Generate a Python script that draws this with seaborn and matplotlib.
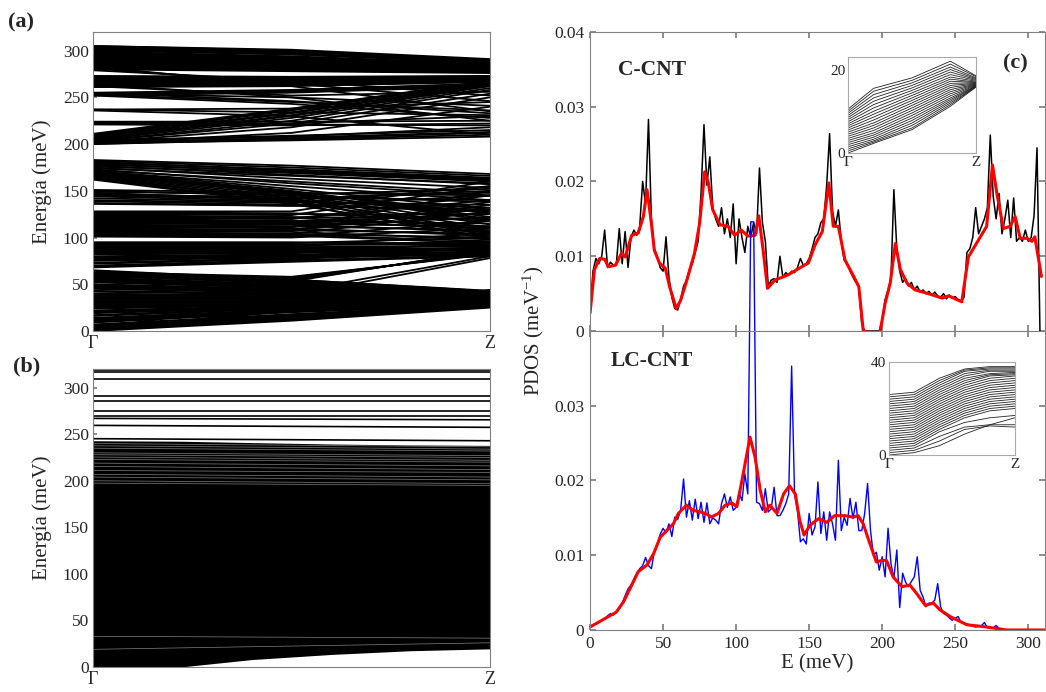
import numpy as np
import pandas as pd
import matplotlib
matplotlib.use('Agg')
import matplotlib.pyplot as plt
import seaborn as sns

# ---------------- (a) C-CNT dispersion: E (meV) at Gamma, mid-zone, Z
a_k = [0.0, 0.5, 1.0]
a_bands = [
    # top group
    (305, 300, 290), (304, 299, 289), (302, 297, 288), (300, 296, 287), (299, 294, 286),
    (297, 292, 285), (295, 290, 284), (293, 289, 283), (291, 287, 282), (289, 285, 281),
    (287, 284, 280), (285, 282, 279), (283, 280, 278), (281, 279, 277), (273, 272, 273),
    (271, 270, 272), (270, 269, 271), (268, 268, 270), (266, 266, 269), (264, 265, 268),
    (262, 263, 267), (255, 258, 265), (253, 256, 263), (252, 255, 262),
    (305, 301, 291), (303, 298, 288.5), (301, 296, 287.5), (298, 293, 285.5), (296, 291, 284.5),
    (294, 290, 283.5), (292, 288, 282.5), (290, 286, 281.5), (288, 284, 280.5), (286, 283, 279.5),
    (284, 281, 278.5), (282, 279, 277.5), (280, 278, 276), (272, 271, 272.5), (269, 268.5, 270.5),
    (267, 267, 269.5), (265, 265.5, 268.5), (263, 264, 267.5), (261, 262, 266.5), (254, 257, 263.5),
    # 200-250 group
    (211, 238, 268), (209, 236, 266), (207, 233, 264), (205, 230, 262), (204, 228, 260),
    (203, 225, 258), (202, 218, 250), (201, 212, 240), (200, 205, 210), (201, 204, 208),
    (202, 206, 212), (204, 209, 215), (222, 221, 220), (224, 224, 225), (237, 234, 231),
    (237, 238, 245), (253, 245, 236), (254, 250, 241), (252, 243, 228), (262, 252, 256),
    (264, 250, 225), (281, 265, 246), (283, 262, 235), (279, 268, 252),
    (210, 237, 267), (208, 234, 265), (206, 231, 263), (203, 222, 254), (200, 207, 213),
    (203, 208, 218), (221, 220, 222), (223, 222, 230), (236, 230, 210), (255, 246, 233),
    # middle group
    (183, 177, 168), (182, 175, 166), (180, 173, 164), (178, 171, 162), (176, 169, 160),
    (174, 166, 158), (172, 160, 148), (170, 150, 122), (169, 148, 118), (168, 146, 114),
    (167, 144, 110), (166, 142, 106), (165, 140, 102), (163, 137, 98), (151, 148, 145),
    (149, 146, 152), (146, 143, 140), (142, 138, 135), (140, 137, 155), (137, 134, 130),
    (128, 128, 160), (126, 125, 125), (124, 122, 120), (122, 120, 140), (120, 118, 115),
    (118, 117, 130), (116, 115, 112), (114, 112, 108), (112, 111, 150), (110, 108, 104),
    (108, 107, 135), (106, 104, 100), (104, 103, 96), (102, 101, 118), (95, 95, 93),
    (93, 93, 92), (91, 91, 90), (89, 89, 88), (87, 87, 86), (85, 85, 84), (83, 84, 82),
    (80, 82, 80), (78, 81, 90), (76, 80, 85), (73, 78, 82), (70, 76, 80), (68, 74, 80),
    (181, 172, 163), (179, 170, 161), (177, 167, 157), (175, 163, 153), (173, 158, 145),
    (171, 155, 140), (171, 152, 130), (170, 149, 126), (168, 147, 120), (164, 139, 104),
    (162, 136, 100), (150, 145, 138), (148, 140, 128), (147, 142, 148), (145, 141, 150),
    (144, 139, 132), (139, 135, 128), (136, 134, 145), (127, 126, 118), (125, 124, 155),
    (123, 121, 112), (121, 120, 145), (119, 117, 110), (117, 116, 126), (115, 114, 106),
    (113, 112, 122), (111, 110, 102), (109, 108, 138), (107, 106, 98), (105, 104, 128),
    (103, 102, 94), (101, 100, 110), (94, 94, 100), (92, 92, 96), (90, 90, 105), (88, 88, 92),
    (86, 86, 89), (84, 85, 87), (82, 83, 95), (79, 81, 84), (77, 80, 88), (75, 79, 83),
    (72, 77, 86), (69, 75, 81),
    # bundle crossing to ~80 meV
    (63, 58, 82), (62, 57, 83), (61, 56, 84), (60, 55, 85), (59, 54, 86), (58, 53, 87),
    (0, 42, 80), (0, 38, 78),
    # low group
    (65, 55, 43), (63, 54, 42), (60, 52, 41), (57, 50, 40), (55, 48, 40), (53, 46, 39),
    (50, 45, 38), (48, 43, 38), (46, 42, 37), (43, 40, 36), (40, 38, 35), (38, 37, 35),
    (35, 35, 34), (33, 33, 33), (30, 31, 33), (28, 30, 32), (25, 28, 32), (22, 27, 31),
    (20, 26, 31), (17, 25, 30), (14, 23, 30), (12, 22, 29), (10, 21, 29), (7, 18, 28),
    (5, 16, 28), (3, 14, 27), (1, 12, 26), (0, 11, 25), (0, 22, 41), (0, 24, 44),
    (64, 55, 42.5), (62, 53, 41.5), (61, 52, 41), (59, 51, 40.5), (56, 49, 40), (54, 47, 39.5),
    (52, 46, 39), (49, 44, 38.5), (47, 43, 38), (45, 41, 37.5), (42, 39, 36), (39, 38, 35.5),
    (37, 36, 35), (36, 35.5, 34.5), (34, 34, 34), (32, 32, 33.5), (31, 31.5, 33), (29, 30.5, 32.5),
    (27, 29, 32), (26, 28.5, 31.5), (24, 27.5, 31), (21, 26, 30.5), (19, 25, 30), (16, 24, 29.5),
    (13, 22.5, 29), (11, 21, 28.5), (9, 20, 28), (6, 17, 27.5), (4, 15, 27), (2, 13, 26.5),
]

# ---------------- (b) LC-CNT dispersion
b_k = [0.0, 0.22, 0.4, 0.6, 0.8, 1.0]
b_bottom = [0, 0, 8, 13.5, 17.5, 19.5]
b_top = [243, 242.5, 241, 239.5, 238.5, 238]
b_flat_gamma = [318.6, 316.5, 309.7, 291.4, 285.3, 274.6, 269.2, 267.0, 259.5, 245.2]
b_flat_z = [318.6, 316.5, 309.7, 291.4, 285.3, 274.6, 269.2, 265.5, 257.4, 243.0]
b_gap_gamma = [240.0, 237.6, 235.0, 230.0, 228.0, 225.5, 223.0, 219.0, 215.4, 211.0,
               207.0, 204.0, 200.0, 197.5, 33.0, 19.0]
b_gap_z = [236.5, 234.0, 232.0, 227.0, 225.0, 222.0, 220.0, 216.0, 212.0, 209.0,
           204.0, 201.0, 197.0, 195.0, 31.0, 26.0]

# ---------------- (c) PDOS
c_step = 2
cnt_black = [
    0.0025, 0.0080, 0.0097, 0.0090, 0.0100, 0.0135, 0.0085, 0.0092, 0.0088, 0.0090,
    0.0137, 0.0090, 0.0133, 0.0085, 0.0125, 0.0135, 0.0128, 0.0140, 0.0200, 0.0170,
    0.0283, 0.0150, 0.0110, 0.0100, 0.0085, 0.0080, 0.0126, 0.0072, 0.0045, 0.0030,
    0.0028, 0.0042, 0.0060, 0.0068, 0.0082, 0.0090, 0.0105, 0.0120, 0.0185, 0.0276,
    0.0195, 0.0233, 0.0165, 0.0150, 0.0140, 0.0165, 0.0130, 0.0150, 0.0125, 0.0170,
    0.0090, 0.0150, 0.0125, 0.0105, 0.0140, 0.0125, 0.0145, 0.0130, 0.0218, 0.0145,
    0.0120, 0.0060, 0.0068, 0.0070, 0.0065, 0.0100, 0.0072, 0.0078, 0.0075, 0.0080,
    0.0078, 0.0085, 0.0097, 0.0088, 0.0090, 0.0097, 0.0110, 0.0125, 0.0130, 0.0145,
    0.0150, 0.0195, 0.0264, 0.0160, 0.0140, 0.0162, 0.0120, 0.0095, 0.0090, 0.0080,
    0.0072, 0.0065, 0.0060, 0.0010, 0.0000, 0.0000, 0.0000, 0.0000, 0.0000, 0.0000,
    0.0015, 0.0042, 0.0055, 0.0070, 0.0189, 0.0110, 0.0080, 0.0065, 0.0070, 0.0060,
    0.0065, 0.0055, 0.0060, 0.0052, 0.0055, 0.0050, 0.0053, 0.0048, 0.0052, 0.0047,
    0.0045, 0.0050, 0.0043, 0.0048, 0.0044, 0.0046, 0.0042, 0.0040, 0.0045, 0.0105,
    0.0110, 0.0125, 0.0165, 0.0130, 0.0140, 0.0150, 0.0165, 0.0262, 0.0180, 0.0150,
    0.0184, 0.0130, 0.0150, 0.0175, 0.0125, 0.0178, 0.0120, 0.0125, 0.0120, 0.0135,
    0.0120, 0.0125, 0.0155, 0.0245, 0.0000,
]
cnt_red_e = [0, 3, 6.5, 10, 12.5, 17.5, 21.5, 24, 28.5, 33, 36.5, 39, 42, 44, 47.5, 51.5,
             54.5, 59, 62, 66, 71.5, 75, 78.5, 81, 84, 89, 94.5, 99, 103.5, 108, 113, 115.5,
             118.5, 121.5, 126.5, 135.5, 145, 149.5, 154, 159, 163.5, 166.5, 170, 174.5,
             180.5, 184, 187, 190, 198.5, 202, 205.5, 209, 212.5, 217, 222.5, 231.5, 241,
             245.5, 254.5, 259, 266, 271.5, 275.5, 278.5, 283, 287.5, 291, 294.5, 299,
             302.5, 304.5, 309]
cnt_red = [0.0024, 0.0082, 0.0097, 0.0096, 0.0086, 0.0088, 0.0104, 0.0099, 0.0128, 0.0131,
           0.0153, 0.0189, 0.0144, 0.0108, 0.0091, 0.0084, 0.0059, 0.0030, 0.0041, 0.0066,
           0.0104, 0.0144, 0.0213, 0.0198, 0.0162, 0.0142, 0.0140, 0.0128, 0.0135, 0.0127,
           0.0128, 0.0154, 0.0108, 0.0057, 0.0068, 0.0075, 0.0086, 0.0091, 0.0115, 0.0133,
           0.0198, 0.0140, 0.0140, 0.0095, 0.0073, 0.0059, 0.0001, -0.0002, -0.0002, 0.0037,
           0.0064, 0.0117, 0.0082, 0.0064, 0.0055, 0.0050, 0.0044, 0.0047, 0.0039, 0.0099,
           0.0122, 0.0140, 0.0222, 0.0184, 0.0137, 0.0140, 0.0153, 0.0124, 0.0124, 0.0120,
           0.0126, 0.0073]
lc_blue = [
    0.0005, 0.0007, 0.0009, 0.0011, 0.0013, 0.0015, 0.0019, 0.0022, 0.0020, 0.0024,
    0.0028, 0.0036, 0.0046, 0.0055, 0.0060, 0.0068, 0.0076, 0.0082, 0.0086, 0.0097,
    0.0086, 0.0082, 0.0105, 0.0115, 0.0128, 0.0136, 0.0130, 0.0142, 0.0125, 0.0151,
    0.0148, 0.0160, 0.0202, 0.0151, 0.0173, 0.0147, 0.0175, 0.0149, 0.0171, 0.0144,
    0.0170, 0.0142, 0.0150, 0.0147, 0.0142, 0.0169, 0.0182, 0.0164, 0.0178, 0.0160,
    0.0164, 0.0184, 0.0173, 0.0209, 0.0182, 0.0546, 0.0546, 0.0171, 0.0169, 0.0160,
    0.0189, 0.0158, 0.0162, 0.0191, 0.0153, 0.0153, 0.0160, 0.0169, 0.0182, 0.0353,
    0.0182, 0.0160, 0.0118, 0.0122, 0.0115, 0.0156, 0.0127, 0.0138, 0.0198, 0.0129,
    0.0158, 0.0120, 0.0158, 0.0142, 0.0120, 0.0227, 0.0133, 0.0151, 0.0140, 0.0176,
    0.0149, 0.0171, 0.0133, 0.0133, 0.0156, 0.0196, 0.0133, 0.0100, 0.0104, 0.0080,
    0.0098, 0.0071, 0.0136, 0.0089, 0.0069, 0.0107, 0.0030, 0.0076, 0.0064, 0.0058,
    0.0065, 0.0071, 0.0098, 0.0053, 0.0044, 0.0031, 0.0036, 0.0036, 0.0040, 0.0062,
    0.0031, 0.0022, 0.0020, 0.0016, 0.0013, 0.0016, 0.0018, 0.0010, 0.0009, 0.0008,
    0.0007, 0.0005, 0.0004, 0.0005, 0.0006, 0.0010, 0.0003, 0.0002, 0.0003, 0.0006,
    0.0002, 0.0000, 0.0000, 0.0000, 0.0000, 0.0000,
]
lc_red_e = [0, 9, 18, 23, 28.5, 33, 39, 43.5, 48, 52.5, 57, 60.5, 66, 70.5, 75.5, 80, 83, 88,
            92.5, 97, 100.5, 104, 109.5, 113, 116.5, 120, 123, 128, 132.5, 136.5, 140.5,
            143.5, 146.5, 150.5, 156.5, 162, 167.5, 174.5, 180, 183.5, 187, 191.5, 196,
            199.5, 203, 207.5, 213.5, 219, 223.5, 229.5, 235, 239.5, 246.5, 258, 271.5,
            285, 300, 311.5]
lc_red = [0.0004, 0.0014, 0.0024, 0.0038, 0.0060, 0.0078, 0.0087, 0.0102, 0.0124, 0.0133,
          0.0142, 0.0156, 0.0167, 0.0160, 0.0158, 0.0155, 0.0151, 0.0156, 0.0167, 0.0170,
          0.0165, 0.0200, 0.0258, 0.0231, 0.0187, 0.0158, 0.0167, 0.0156, 0.0182, 0.0193,
          0.0182, 0.0147, 0.0127, 0.0140, 0.0149, 0.0144, 0.0153, 0.0153, 0.0151, 0.0153,
          0.0142, 0.0116, 0.0091, 0.0093, 0.0093, 0.0071, 0.0058, 0.0060, 0.0049, 0.0033,
          0.0036, 0.0027, 0.0018, 0.0007, 0.0004, 0.0000, 0.0000, 0.0000]

# ---------------- insets (low-energy dispersions)
ins_c_k = [0.0, 0.2, 0.5, 0.8, 1.0]
ins_c_bands = [
    (10.5, 15.5, 18.0, 22.0, 18.5), (10.0, 14.8, 17.4, 21.3, 18.3), (9.5, 14.0, 16.8, 20.6, 18.0),
    (9.0, 13.2, 16.2, 20.0, 17.8), (8.5, 12.4, 15.6, 19.4, 17.6), (8.0, 11.6, 15.0, 18.8, 17.4),
    (7.5, 10.8, 14.4, 18.2, 17.2), (7.0, 10.0, 13.8, 17.7, 17.0), (6.5, 9.3, 13.2, 17.2, 16.9),
    (6.0, 8.6, 12.6, 16.7, 16.8), (5.5, 7.9, 12.0, 16.2, 16.7), (5.0, 7.2, 11.4, 15.7, 16.6),
    (4.5, 6.6, 10.8, 15.2, 16.5), (4.0, 6.0, 10.2, 14.7, 16.4), (3.5, 5.4, 9.6, 14.2, 16.3),
    (3.0, 4.8, 9.0, 13.7, 16.2), (2.5, 4.3, 8.4, 13.2, 16.1), (2.0, 3.8, 7.8, 12.8, 16.0),
    (1.5, 3.3, 7.2, 12.4, 16.0), (1.0, 2.9, 6.6, 12.0, 15.9), (0.5, 2.6, 6.0, 11.6, 15.9),
    (0.0, 2.3, 5.6, 11.2, 15.8),
]
ins_lc_k = [0.0, 0.2, 0.4, 0.6, 0.8, 1.0]
ins_lc_bands = [
    (26, 27, 33, 37, 38, 38), (25, 26, 32, 36.5, 37.5, 37.5), (24, 25, 31, 36, 37, 37),
    (23, 24, 30, 35, 36.5, 36.5), (22, 23, 29, 34, 36, 36), (21, 22, 28, 33, 35, 35.5),
    (20, 21, 27, 32, 34.5, 35), (19, 20, 26, 31, 34, 34.5), (18, 19, 25, 30, 33, 34),
    (17, 18, 24, 29, 32, 33), (16, 17, 23, 28, 31, 32), (15, 16, 22, 27, 30, 31),
    (14, 15, 21, 26, 29, 30), (13, 14, 20, 25, 28, 29), (12, 13, 19, 24, 27, 28),
    (11, 12, 18, 23, 26, 27), (10, 11, 17, 22, 25, 26), (9, 10, 16, 21, 24, 25),
    (8, 9, 15, 20, 23, 24), (7, 8, 14, 19, 22, 23), (6, 7, 13, 18, 21, 22),
    (5, 6, 12, 17, 20, 21), (4, 5, 11, 16, 19, 20), (3, 4, 10, 14, 16, 17),
    (2, 3, 8, 12, 13, 13), (1, 2, 6, 11, 12.5, 12), (0, 1, 4, 9, 13, 16),
]


def band_frame(k, bands):
    rows = [(i, kk, e) for i, band in enumerate(bands) for kk, e in zip(k, band)]
    return pd.DataFrame(rows, columns=['band', 'k', 'E'])


sns.set_theme(style='ticks')
plt.rcParams['font.family'] = ['Liberation Serif', 'DejaVu Serif']
plt.rcParams['mathtext.fontset'] = 'custom'
plt.rcParams['mathtext.rm'] = 'Liberation Serif'
plt.rcParams['mathtext.it'] = 'Liberation Serif:italic'
spine_col = '#808080'

fig = plt.figure(figsize=(10.46, 6.92), dpi=100)
ax_a = fig.add_axes([0.0889, 0.5217, 0.3795, 0.4321])
ax_b = fig.add_axes([0.0889, 0.0361, 0.3795, 0.4306])
ax_ct = fig.add_axes([0.5641, 0.5217, 0.4350, 0.4321])
ax_cb = fig.add_axes([0.5641, 0.0896, 0.4350, 0.4321])
ins_t = fig.add_axes([0.8107, 0.7789, 0.1224, 0.1387])
ins_b = fig.add_axes([0.8499, 0.3425, 0.1205, 0.1344])

# ---- (a)
sns.lineplot(data=band_frame(a_k, a_bands), x='k', y='E', units='band', estimator=None,
             color='black', lw=1.3, legend=False, ax=ax_a)

# ---- (b)
ax_b.fill_between(b_k, b_bottom, b_top, color='black', lw=0)
flat = band_frame([0.0, 1.0], list(zip(b_flat_gamma, b_flat_z)))
sns.lineplot(data=flat, x='k', y='E', units='band', estimator=None, color='black', lw=1.2,
             legend=False, ax=ax_b)
gaps = band_frame([0.0, 1.0], list(zip(b_gap_gamma, b_gap_z)))
sns.lineplot(data=gaps, x='k', y='E', units='band', estimator=None, color='white', lw=0.5,
             alpha=0.5, legend=False, ax=ax_b)

for ax in (ax_a, ax_b):
    ax.set_xlim(0, 1)
    ax.set_ylim(0, 320)
    ax.set_xticks([0, 1])
    ax.set_xticklabels(['Γ', 'Z'])
    ax.set_yticks(range(0, 301, 50))
    ax.set_xlabel('')
    ax.set_ylabel('Energía (meV)', fontsize=15, labelpad=8)
    ax.tick_params(axis='y', direction='in', length=3, labelsize=12.5, color=spine_col, pad=3)
    ax.tick_params(axis='x', length=0, labelsize=13, pad=3)
    for s in ax.spines.values():
        s.set_color(spine_col)
        s.set_linewidth(0.8)
fig.text(0.0076, 0.968, '(a)', fontsize=16, fontweight='bold', va='center', ha='left')
fig.text(0.0124, 0.4697, '(b)', fontsize=16, fontweight='bold', va='center', ha='left')

# ---- (c)
cnt_e = np.arange(len(cnt_black)) * c_step
lc_e = np.arange(len(lc_blue)) * c_step
sns.lineplot(x=cnt_e, y=cnt_black, color='black', lw=1.1, ax=ax_ct)
sns.lineplot(x=cnt_red_e, y=cnt_red, color='#ff0000', lw=2.2, ax=ax_ct)
sns.lineplot(x=lc_e, y=lc_blue, color='#0000ff', lw=1.0, ax=ax_cb, clip_on=False)
sns.lineplot(x=lc_red_e, y=lc_red, color='#ff0000', lw=2.2, ax=ax_cb)

ylabels = ['0', '0.01', '0.02', '0.03', '0.04']
for ax in (ax_ct, ax_cb):
    ax.set_xlim(0, 311.5)
    ax.set_ylim(0, 0.04)
    ax.set_xticks(range(0, 301, 50))
    ax.tick_params(direction='in', length=4, top=True, right=True, labelsize=12.5,
                   color=spine_col, pad=4)
    for s in ax.spines.values():
        s.set_color(spine_col)
        s.set_linewidth(0.8)
ax_ct.set_yticks([0, 0.01, 0.02, 0.03, 0.04])
ax_ct.set_yticklabels(ylabels)
ax_ct.tick_params(labelbottom=False)
ax_cb.set_yticks([0, 0.01, 0.02, 0.03])
ax_cb.set_yticklabels(ylabels[:4])
ax_cb.set_xlabel('E (meV)', fontsize=15, labelpad=2)
ax_cb.set_ylabel('')
ax_ct.set_ylabel('')
fig.text(533 / 1046, 1 - 331 / 692, 'PDOS (meV$^{-1}$)', rotation=90, fontsize=15,
         va='center', ha='center')

ax_ct.text(0.0615, 0.873, 'C-CNT', transform=ax_ct.transAxes, fontsize=15.5,
           fontweight='bold', va='center', ha='left')
ax_cb.text(0.045, 0.90, 'LC-CNT', transform=ax_cb.transAxes, fontsize=15.5,
           fontweight='bold', va='center', ha='left')
ax_ct.text(0.908, 0.893, '(c)', transform=ax_ct.transAxes, fontsize=16,
           fontweight='bold', va='center', ha='left')

# ---- insets
sns.lineplot(data=band_frame(ins_c_k, ins_c_bands), x='k', y='E', units='band',
             estimator=None, color='#222222', lw=0.6, legend=False, ax=ins_t)
sns.lineplot(data=band_frame(ins_lc_k, ins_lc_bands), x='k', y='E', units='band',
             estimator=None, color='#222222', lw=0.6, legend=False, ax=ins_b)
for ins, top in [(ins_t, 23), (ins_b, 40)]:
    ins.set_xlim(0, 1)
    ins.set_ylim(0, top)
    ins.set_xticks([0, 1])
    ins.set_xticklabels(['Γ', 'Z'])
    ins.set_xlabel('')
    ins.set_ylabel('')
    ins.tick_params(length=0, labelsize=11, pad=2)
    for s in ins.spines.values():
        s.set_color('#aaaaaa')
        s.set_linewidth(0.8)
ins_t.set_yticks([0, 20])
ins_b.set_yticks([0, 40])

fig.savefig('out.png', dpi=100)
